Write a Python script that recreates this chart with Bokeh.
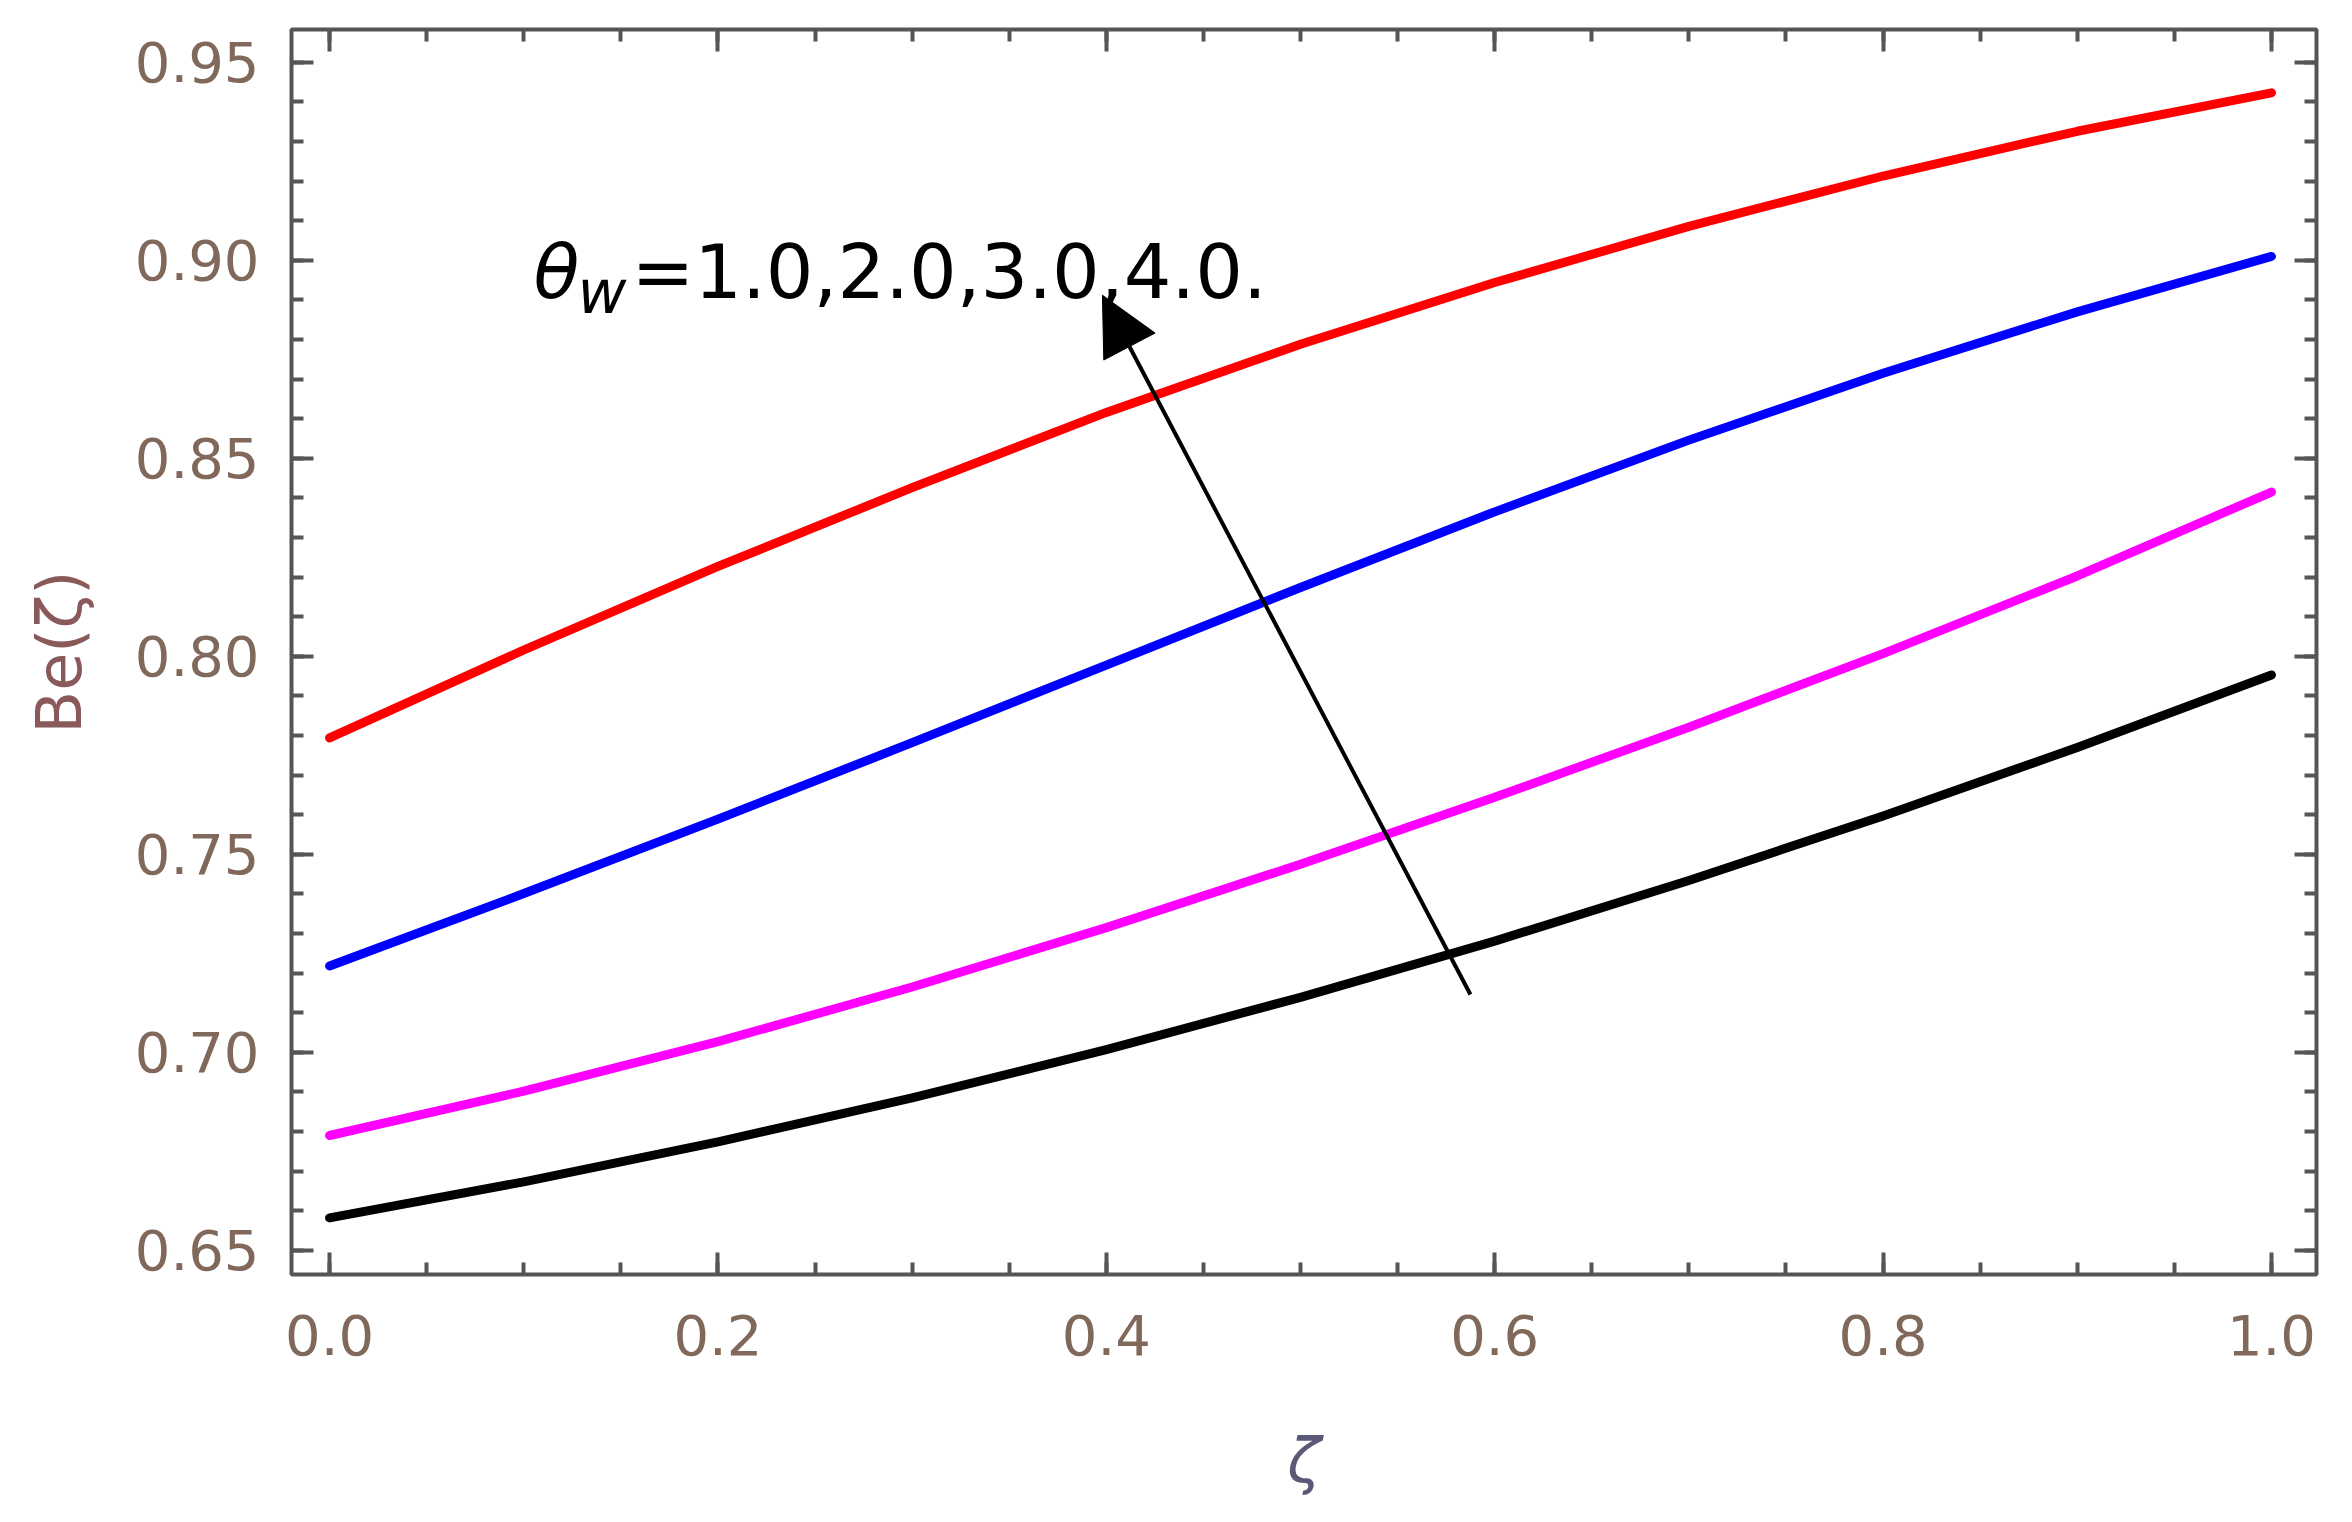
from bokeh.plotting import figure
from bokeh.models import (LinearAxis, SingleIntervalTicker, PrintfTickFormatter,
                          Range1d, Arrow, NormalHead, Label, ColumnDataSource)
from bokeh.embed import file_html
from bokeh.resources import INLINE

# ---- data ----
zeta = [0.0, 0.1, 0.2, 0.3, 0.4, 0.5, 0.6, 0.7, 0.8, 0.9, 1.0]
be_theta1 = [0.6582, 0.6673, 0.6774, 0.6885, 0.7007, 0.7139, 0.7281, 0.7434, 0.7597, 0.7770, 0.7953]
be_theta2 = [0.6790, 0.6902, 0.7027, 0.7165, 0.7315, 0.7475, 0.7644, 0.7821, 0.8007, 0.8203, 0.8415]
be_theta3 = [0.7218, 0.7401, 0.7589, 0.7782, 0.7978, 0.8174, 0.8365, 0.8546, 0.8715, 0.8870, 0.9010]
be_theta4 = [0.7794, 0.8016, 0.8227, 0.8426, 0.8616, 0.8788, 0.8944, 0.9086, 0.9213, 0.9326, 0.9423]
series_colors = ["black", "#ff00ff", "#0000ff", "#ff0000"]
annotation_text = "=1.0,2.0,3.0,4.0."
arrow_tail = (0.5875, 0.7146)
arrow_tip = (0.398, 0.8912)

FONT = "DejaVu Sans"
FRAME = "#555555"
TICKLBL = "#80685a"

p = figure(width=2336, height=1506, output_backend="svg", toolbar_location=None,
           x_range=Range1d(-0.0196, 1.0232), y_range=Range1d(0.6439, 0.9583),
           x_axis_location=None, y_axis_location=None,
           min_border_left=291, min_border_right=20, min_border_top=29, min_border_bottom=232)
p.xgrid.visible = False
p.ygrid.visible = False
p.outline_line_color = FRAME
p.outline_line_width = 4
p.background_fill_color = "white"
p.border_fill_color = "white"

def style_axis(ax, show_labels):
    ax.axis_line_color = None
    ax.major_tick_in = 22
    ax.major_tick_out = 0
    ax.minor_tick_in = 12
    ax.minor_tick_out = 0
    ax.major_tick_line_color = FRAME
    ax.minor_tick_line_color = FRAME
    ax.major_tick_line_width = 4
    ax.minor_tick_line_width = 4
    if show_labels:
        ax.major_label_text_font = FONT
        ax.major_label_text_font_size = "56px"
        ax.major_label_text_color = TICKLBL
    else:
        ax.major_label_text_font_size = "0px"
        ax.major_label_text_alpha = 0
        ax.major_label_standoff = 0

def xt():
    return SingleIntervalTicker(interval=0.2, num_minor_ticks=4)

def yt():
    return SingleIntervalTicker(interval=0.05, num_minor_ticks=5)

xb = LinearAxis(ticker=xt(), formatter=PrintfTickFormatter(format="%.1f"))
style_axis(xb, True)
xb.major_label_standoff = 40
xb.axis_label = "ζ"
xb.axis_label_text_font = FONT
xb.axis_label_text_font_style = "italic"
xb.axis_label_text_font_size = "62px"
xb.axis_label_text_color = "#5a5a78"
xb.axis_label_standoff = 66
p.add_layout(xb, "below")

yl = LinearAxis(ticker=yt(), formatter=PrintfTickFormatter(format="%.2f"))
style_axis(yl, True)
yl.major_label_standoff = 32
yl.axis_label = "Be(ζ)"
yl.axis_label_text_font = FONT
yl.axis_label_text_font_style = "normal"
yl.axis_label_text_font_size = "62px"
yl.axis_label_text_color = "#8a5a5a"
yl.axis_label_standoff = 36
p.add_layout(yl, "left")

xa = LinearAxis(ticker=xt())
style_axis(xa, False)
p.add_layout(xa, "above")
yr = LinearAxis(ticker=yt())
style_axis(yr, False)
p.add_layout(yr, "right")

for ys, c in zip([be_theta1, be_theta2, be_theta3, be_theta4], series_colors):
    src = ColumnDataSource(dict(x=zeta, y=ys))
    p.line("x", "y", source=src, line_color=c, line_width=9, line_join="round", line_cap="round")

p.add_layout(Arrow(end=NormalHead(size=58, fill_color="black", line_color="black", line_width=1),
                   x_start=arrow_tail[0], y_start=arrow_tail[1],
                   x_end=arrow_tip[0], y_end=arrow_tip[1],
                   line_color="black", line_width=4))

ax0, ay0 = 0.105, 0.8924
p.add_layout(Label(x=ax0, y=ay0, y_offset=18, text="θ", text_font=FONT, text_font_style="italic",
                   text_font_size="75px", text_color="black", text_baseline="alphabetic"))
p.add_layout(Label(x=ax0, y=ay0, x_offset=44, y_offset=-2, text="w", text_font=FONT,
                   text_font_style="italic", text_font_size="60px", text_color="black",
                   text_baseline="alphabetic"))
p.add_layout(Label(x=ax0, y=ay0, x_offset=98, y_offset=18, text=annotation_text, text_font=FONT,
                   text_font_size="75px", text_color="black", text_baseline="alphabetic"))

open("out.html", "w").write(file_html(p, INLINE))
